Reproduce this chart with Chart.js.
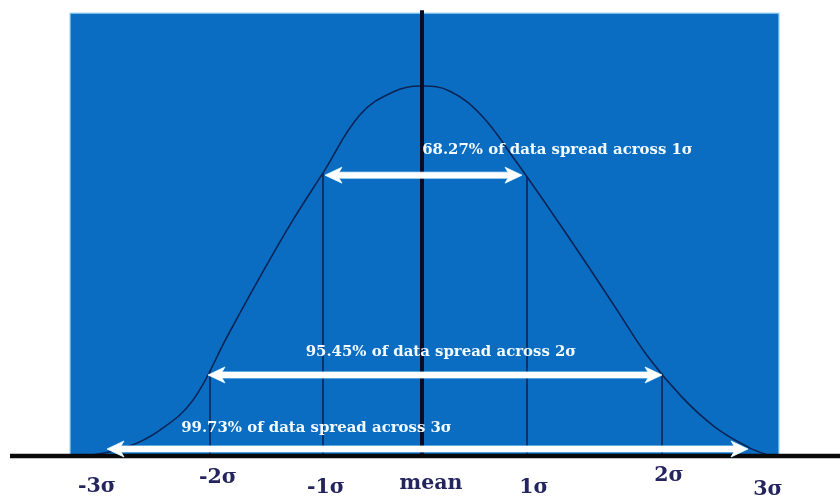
<!DOCTYPE html>
<html><head><meta charset="utf-8">
<script src="https://cdn.jsdelivr.net/npm/chart.js@4/dist/chart.umd.min.js"></script>
<style>html,body{margin:0;padding:0;background:#fff}canvas{display:block}</style>
</head><body>
<canvas id="c" width="840" height="497"></canvas>
<script>
// ---- data (x in sigma-ish units, y as fraction of peak height) ----
const curveX = [-3.49,-3.29,-2.95,-2.62,-2.29,-1.95,-1.62,-1.29,-0.99,-0.62,-0.29,0,0.28,0.60,0.93,1.26,1.60,1.93,2.26,2.60,2.93,3.26,3.46,3.56];
const curveY = [0,0.003,0.024,0.070,0.151,0.322,0.484,0.638,0.765,0.922,0.984,1.0,0.986,0.919,0.800,0.673,0.538,0.403,0.268,0.159,0.078,0.024,0.003,0];
const sigmaLineX = [-2.12,-0.99,1.05,2.40];
const sigmaLineTop = [0.232,0.765,0.754,0.224];
const meanLineX = 0, meanLineTop = 1.205;
const panelX = [-3.52,3.57], panelTop = 1.197;
const axisX = [-4.12,4.18];
const tickLabels = ['-3σ','-2σ','-1σ','mean','1σ','2σ','3σ'];
const tickLabelX = [-3.25,-2.04,-0.96,0.09,1.12,2.47,3.46];
const annoText = ['68.27% of data spread across 1σ','95.45% of data spread across 2σ','99.73% of data spread across 3σ'];
const annoX = [1.355,0.19,-1.055];
const annoY = [0.827,0.281,0.076];
const arrowFrom = [-0.97,-2.14,-3.15];
const arrowTo = [1.00,2.40,3.26];
const arrowY = [0.759,0.219,0.019];

// ---- layout / style ----
const labelDrop = [31,22,32,28,32,20,34];
const BLUE = '#0a6dc1', NAVY = '#0b2456', LABEL = '#24245e';

const pts = (xs, ys) => xs.map((x,i)=>({x, y: ys[i]}));
const datasets = [];
datasets.push({ // blue panel
  data: [{x:panelX[0],y:0},{x:panelX[0],y:panelTop},{x:panelX[1],y:panelTop},{x:panelX[1],y:0}],
  showLine:true, fill:'origin', backgroundColor:BLUE, borderColor:'#9fd6f2', borderWidth:1.2, pointRadius:0, order:10, tension:0
});
sigmaLineX.forEach((x,i)=>datasets.push({
  data:[{x,y:0},{x,y:sigmaLineTop[i]}], showLine:true, borderColor:NAVY, borderWidth:1.6, pointRadius:0, order:5
}));
datasets.push({data:[{x:meanLineX,y:0},{x:meanLineX,y:meanLineTop}], showLine:true, borderColor:'#0a0c26', borderWidth:4, pointRadius:0, order:3});
datasets.push({data:pts(curveX,curveY), showLine:true, borderColor:NAVY, borderWidth:1.6, pointRadius:0, tension:0.4, order:4});
datasets.push({data:[{x:axisX[0],y:0},{x:axisX[1],y:0}], showLine:true, borderColor:'#0a0a0a', borderWidth:4.5, pointRadius:0, order:1});

function fitFont(ctx, text, target, family, weight){
  ctx.font = weight+' 20px '+family;
  const w = ctx.measureText(text).width;
  return 20*target/w;
}

const overlay = {
  id:'overlay',
  afterDatasetsDraw(chart){
    const {ctx, scales:{x, y}} = chart;
    ctx.save();
    // arrows
    arrowFrom.forEach((f,i)=>{
      const x1=x.getPixelForValue(f), x2=x.getPixelForValue(arrowTo[i]), yy=y.getPixelForValue(arrowY[i]);
      const hl=17, hh=8, sw=6;
      ctx.fillStyle='#ffffff';
      ctx.strokeStyle='rgba(190,235,255,0.9)'; ctx.lineWidth=1;
      ctx.beginPath();
      ctx.moveTo(x1,yy);
      ctx.lineTo(x1+hl,yy-hh); ctx.lineTo(x1+hl-3,yy-sw/2);
      ctx.lineTo(x2-hl+3,yy-sw/2); ctx.lineTo(x2-hl,yy-hh);
      ctx.lineTo(x2,yy);
      ctx.lineTo(x2-hl,yy+hh); ctx.lineTo(x2-hl+3,yy+sw/2);
      ctx.lineTo(x1+hl-3,yy+sw/2); ctx.lineTo(x1+hl,yy+hh);
      ctx.closePath();
      ctx.stroke(); ctx.fill();
    });
    // annotation text
    const fam = '"DejaVu Serif", serif';
    const fs = fitFont(ctx, annoText[0], 271, fam, 'bold');
    ctx.font = 'bold '+fs.toFixed(2)+'px '+fam;
    ctx.fillStyle='#f4fbff';
    ctx.textAlign='center'; ctx.textBaseline='middle';
    annoText.forEach((t,i)=>ctx.fillText(t, x.getPixelForValue(annoX[i]), y.getPixelForValue(annoY[i])));
    // sigma labels below the axis
    const lfs = fitFont(ctx, 'mean', 63, fam, 'bold');
    ctx.font = 'bold '+lfs.toFixed(2)+'px '+fam;
    ctx.fillStyle=LABEL;
    const base = y.getPixelForValue(0);
    tickLabels.forEach((t,i)=>ctx.fillText(t, x.getPixelForValue(tickLabelX[i]), base+labelDrop[i]));
    ctx.restore();
  }
};

new Chart(document.getElementById('c'), {
  type:'scatter',
  data:{datasets},
  options:{
    responsive:false, animation:false, devicePixelRatio:1,
    layout:{padding:0},
    plugins:{legend:{display:false}, tooltip:{enabled:false}},
    scales:{
      x:{type:'linear', display:false, min:-4.22, max:4.18},
      y:{type:'linear', display:false, min:-0.1108, max:1.2324}
    },
    elements:{point:{radius:0}}
  },
  plugins:[overlay]
});
</script>
</body></html>
